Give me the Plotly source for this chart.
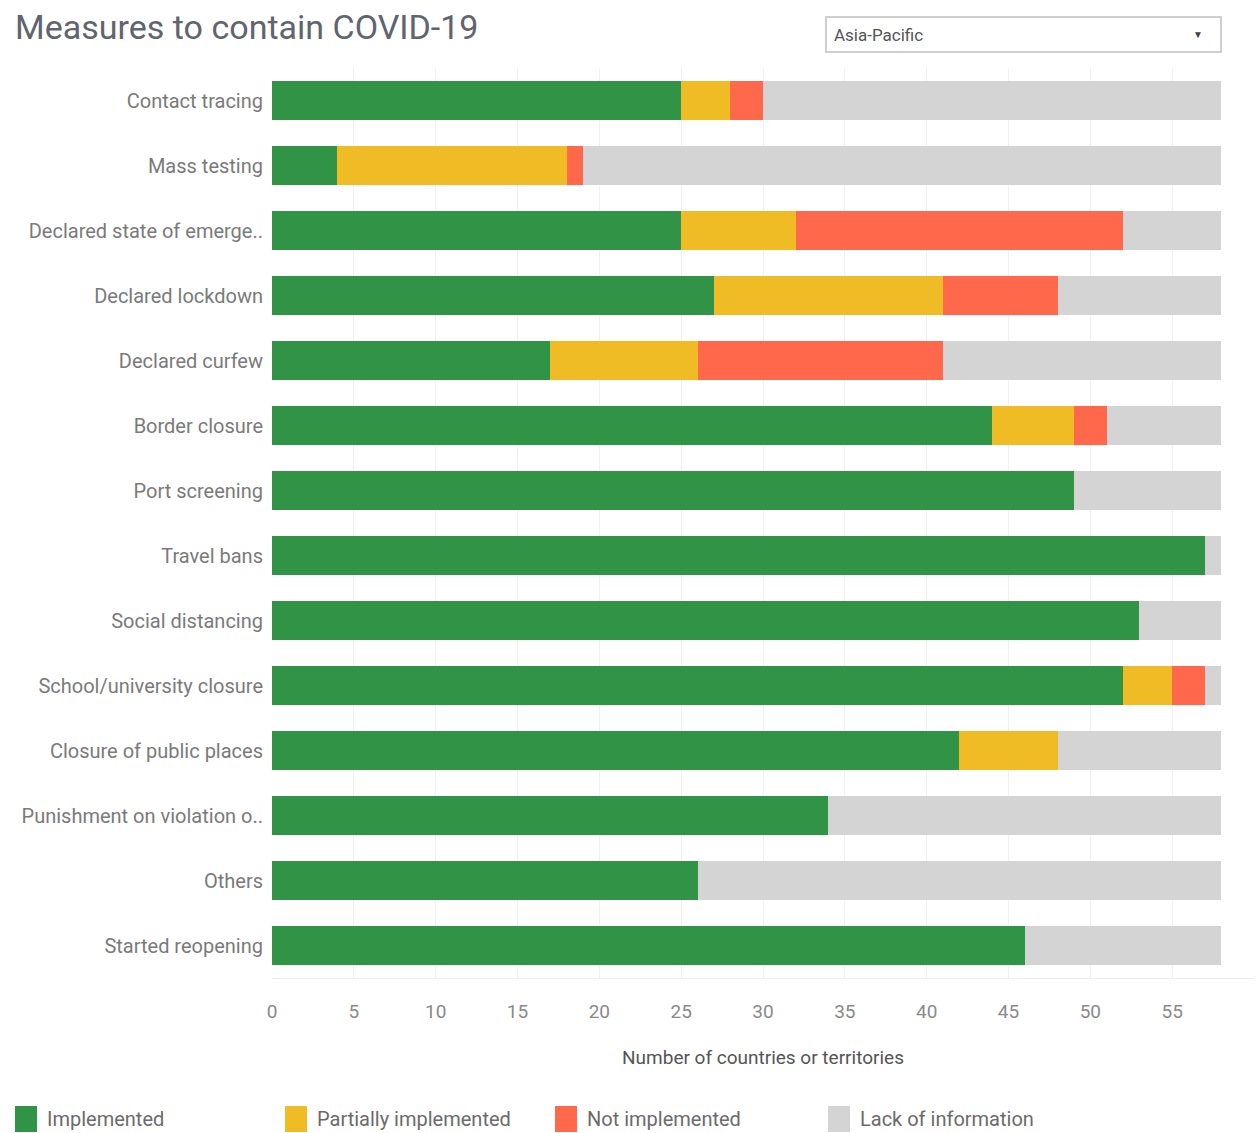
import plotly.graph_objects as go

categories = [
    "Contact tracing", "Mass testing", "Declared state of emerge..", "Declared lockdown",
    "Declared curfew", "Border closure", "Port screening", "Travel bans",
    "Social distancing", "School/university closure", "Closure of public places",
    "Punishment on violation o..", "Others", "Started reopening",
]
implemented = [25, 4, 25, 27, 17, 44, 49, 57, 53, 52, 42, 34, 26, 46]
partially = [3, 14, 7, 14, 9, 5, 0, 0, 0, 3, 6, 0, 0, 0]
not_impl = [2, 1, 20, 7, 15, 2, 0, 0, 0, 2, 0, 0, 0, 0]
lack_info = [28, 39, 6, 10, 17, 7, 9, 1, 5, 1, 10, 24, 32, 12]

series_names = ["Implemented", "Partially implemented", "Not implemented", "Lack of information"]
series_values = [implemented, partially, not_impl, lack_info]
series_colors = ["#319346", "#f0bc26", "#ff684b", "#d4d4d4"]

W, H = 1260, 1133
ML, MR, MT, MB = 272, 6, 68, 155
PW, PH = W - ML - MR, H - MT - MB


def px_x(px):
    return (px - ML) / PW


def px_y(py):
    return (H - MB - py) / PH


FONT = "Roboto, sans-serif"
fig = go.Figure()
for name, vals, col in zip(series_names, series_values, series_colors):
    fig.add_trace(go.Bar(
        y=categories, x=vals, name=name, orientation="h",
        marker=dict(color=col, line=dict(width=0)), width=0.61,
    ))

fig.update_layout(
    barmode="stack",
    width=W, height=H,
    paper_bgcolor="white", plot_bgcolor="white",
    margin=dict(l=ML, r=MR, t=MT, b=MB),
    font=dict(family=FONT, color="#6b6b6b", size=20),
    title=dict(text="Measures to contain COVID-19", x=0.012, xanchor="left",
               y=1 - 27 / H, yanchor="middle",
               font=dict(family=FONT, size=34, color="#5f6470")),
    xaxis=dict(range=[0, 60], dtick=5, showgrid=True, gridcolor="#f1f1f1",
               zeroline=False, ticks="outside", ticklen=16, tickcolor="rgba(0,0,0,0)",
               tickfont=dict(size=19, color="#8a8a8a"),
               title=dict(text="Number of countries or territories", standoff=28,
                          font=dict(size=19, color="#555555")),
               showline=True, linecolor="#eeeeee"),
    yaxis=dict(autorange="reversed", ticks="outside", ticklen=4,
               tickcolor="rgba(0,0,0,0)", tickfont=dict(size=20, color="#7a7a7a")),
    showlegend=False,
)

# legend drawn along the bottom, as in the reference
legend_x = [15, 285, 555, 828]
for name, col, lx in zip(series_names, series_colors, legend_x):
    fig.add_shape(type="rect", xref="paper", yref="paper",
                  x0=px_x(lx), x1=px_x(lx + 22), y0=px_y(1132), y1=px_y(1106),
                  line=dict(width=0), fillcolor=col)
    fig.add_annotation(text=name, xref="paper", yref="paper",
                       x=px_x(lx + 30), y=px_y(1119), xanchor="left", yanchor="middle",
                       showarrow=False, font=dict(size=20, color="#6b6b6b"))

# dropdown-style filter box
fig.add_shape(type="rect", xref="paper", yref="paper",
              x0=px_x(826), x1=px_x(1221), y0=px_y(52), y1=px_y(17),
              line=dict(color="#cfcfcf", width=2), fillcolor="white")
fig.add_annotation(text="Asia-Pacific", xref="paper", yref="paper",
                   x=px_x(832), y=px_y(35), xanchor="left", yanchor="middle",
                   showarrow=False, font=dict(size=17, color="#555555"))
fig.add_annotation(text="▼", xref="paper", yref="paper",
                   x=px_x(1198), y=px_y(35), xanchor="center", yanchor="middle",
                   showarrow=False, font=dict(size=10, color="#444444"))

fig.write_html("out.html", config={"displayModeBar": False},
               post_script="document.body.style.margin='0';")
